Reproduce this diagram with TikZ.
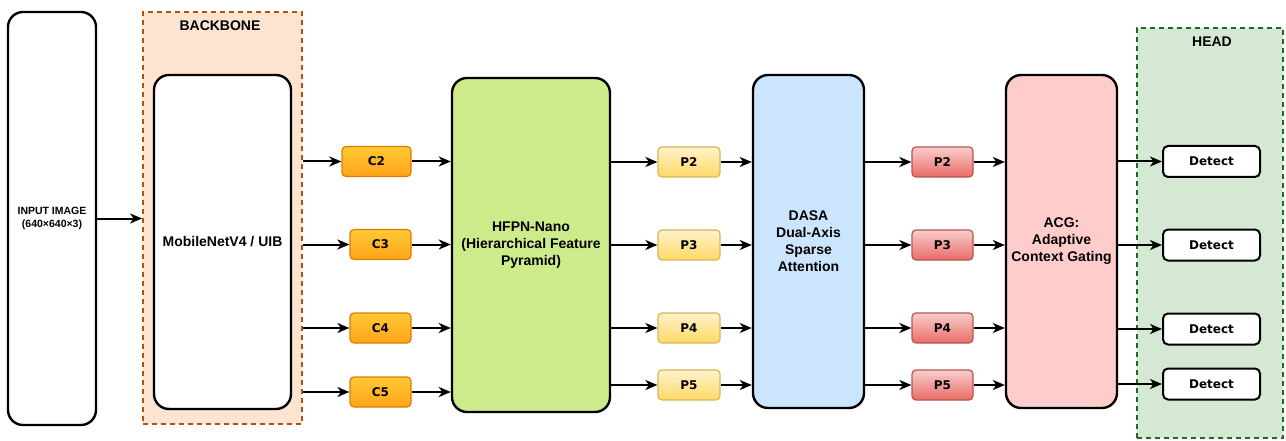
\documentclass[tikz,border=0pt]{standalone}
\usepackage{fontspec}
\setmainfont{Liberation Sans}
\newfontfamily\smallboxfont{DejaVu Sans}
\usetikzlibrary{arrows.meta}

\definecolor{bbfill}{HTML}{FCE4D0}
\definecolor{bbline}{HTML}{B5500F}
\definecolor{headfill}{HTML}{D5E8D4}
\definecolor{headline}{HTML}{1F6B1F}
\definecolor{hfpnfill}{HTML}{CDEB8B}
\definecolor{dasafill}{HTML}{CCE5FF}
\definecolor{acgfill}{HTML}{FFCCCC}
\definecolor{ctop}{HTML}{FFC933}
\definecolor{cbot}{HTML}{FFA41B}
\definecolor{cline}{HTML}{E07B00}
\definecolor{ptop}{HTML}{FFF2CC}
\definecolor{pbot}{HTML}{FFD966}
\definecolor{pline}{HTML}{D6B656}
\definecolor{rtop}{HTML}{F8CECC}
\definecolor{rbot}{HTML}{EA6B66}
\definecolor{rline}{HTML}{B85450}

\tikzset{
  bigblock/.style={draw=black, line width=2.4pt, rounded corners=15pt,
    align=center, inner sep=0pt,
    font=\fontsize{14}{17}\selectfont\bfseries},
  group/.style={line width=1.8pt, dash pattern=on 5pt off 4pt, inner sep=0pt},
  grouplabel/.style={font=\fontsize{14}{17}\selectfont\bfseries},
  featbox/.style={line width=1.2pt, rounded corners=4pt, inner sep=0pt,
    minimum height=30pt, font=\fontsize{12}{14}\smallboxfont\bfseries},
  cbox/.style={featbox, draw=cline, top color=ctop, bottom color=cbot},
  pbox/.style={featbox, draw=pline, top color=ptop, bottom color=pbot},
  rbox/.style={featbox, draw=rline, top color=rtop, bottom color=rbot},
  detbox/.style={draw=black, fill=white, line width=2pt, rounded corners=5pt,
    inner sep=0pt, minimum width=97pt, minimum height=31pt,
    font=\fontsize{12}{14}\smallboxfont\bfseries},
  flow/.style={draw=black, line width=2pt,
    -{Stealth[length=12pt,width=10pt,inset=3.5pt]}}
}

\begin{document}
\begin{tikzpicture}[x=1pt,y=-1pt]
\useasboundingbox (0,0) rectangle (1286,441);

% group containers
\node[group, draw=bbline, fill=bbfill, minimum width=159pt, minimum height=412pt]
  (bb) at (222.5,218) {};
\node[grouplabel] (bblabel) at (220,26) {BACKBONE};
\node[group, draw=headline, fill=headfill, minimum width=146pt, minimum height=410pt]
  (head) at (1210,233) {};
\node[grouplabel] (headlabel) at (1212,42) {HEAD};

% input and main blocks
\node[bigblock, fill=white, minimum width=88pt, minimum height=413pt,
  font=\fontsize{10.5}{13}\selectfont\bfseries]
  (input) at (52,218.5) {INPUT IMAGE\\(640×640×3)};
\node[bigblock, fill=white, minimum width=137pt, minimum height=334pt]
  (mnet) at (222.5,242) {MobileNetV4 / UIB};
\node[bigblock, fill=hfpnfill, minimum width=158pt, minimum height=334pt]
  (hfpn) at (531,245) {HFPN-Nano\\(Hierarchical Feature\\Pyramid)};
\node[bigblock, fill=dasafill, minimum width=111pt, minimum height=333pt]
  (dasa) at (808.5,241.5) {DASA\\Dual-Axis\\Sparse\\Attention};
\node[bigblock, fill=acgfill, minimum width=111pt, minimum height=333pt]
  (acg) at (1061.5,241.5) {ACG:\\Adaptive\\Context Gating};

% backbone feature maps
\node[cbox, minimum width=69pt] (c2) at (376.5,161.5) {C2};
\node[cbox, minimum width=61pt] (c3) at (380.5,244.5) {C3};
\node[cbox, minimum width=61pt] (c4) at (380.5,328) {C4};
\node[cbox, minimum width=61pt] (c5) at (380.5,392) {C5};

% pyramid outputs
\node[pbox, minimum width=62pt] (p2) at (689,162) {P2};
\node[pbox, minimum width=62pt] (p3) at (689,245) {P3};
\node[pbox, minimum width=62pt] (p4) at (689,328) {P4};
\node[pbox, minimum width=62pt] (p5) at (689,385) {P5};

% attention outputs
\node[rbox, minimum width=61pt] (q2) at (942.5,162) {P2};
\node[rbox, minimum width=61pt] (q3) at (942.5,245) {P3};
\node[rbox, minimum width=61pt] (q4) at (942.5,328) {P4};
\node[rbox, minimum width=61pt] (q5) at (942.5,385) {P5};

% detection heads
\node[detbox] (d2) at (1211.5,161.5) {Detect};
\node[detbox] (d3) at (1211.5,245) {Detect};
\node[detbox] (d4) at (1211.5,329) {Detect};
\node[detbox] (d5) at (1211.5,384) {Detect};

% connectors
\draw[flow] (input.east) -- (bb.west |- input.east);
\foreach \c in {c2,c3,c4,c5}{
  \draw[flow] (bb.east |- \c.west) -- (\c.west);
  \draw[flow] (\c.east) -- (hfpn.west |- \c.east);
}
\foreach \p/\q/\d in {p2/q2/d2,p3/q3/d3,p4/q4/d4,p5/q5/d5}{
  \draw[flow] (hfpn.east |- \p.west) -- (\p.west);
  \draw[flow] (\p.east) -- (dasa.west |- \p.east);
  \draw[flow] (dasa.east |- \q.west) -- (\q.west);
  \draw[flow] (\q.east) -- (acg.west |- \q.east);
  \draw[flow] (acg.east |- \d.west) -- (\d.west);
}
\end{tikzpicture}
\end{document}
